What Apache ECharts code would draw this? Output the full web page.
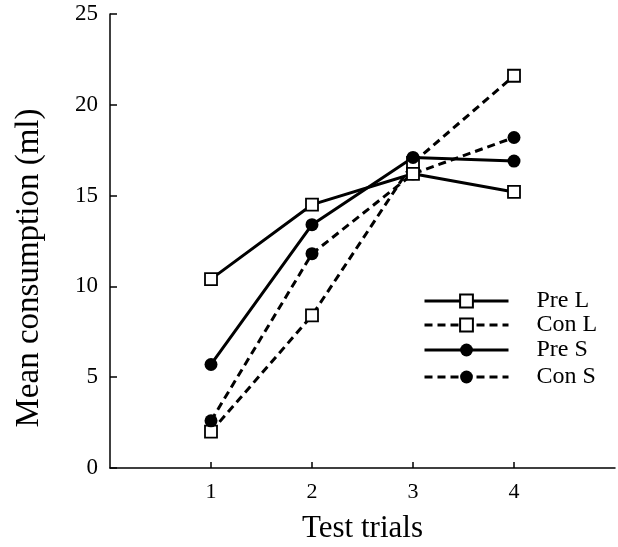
<!DOCTYPE html>
<html><head><meta charset="utf-8">
<script src="https://cdn.jsdelivr.net/npm/echarts@6/dist/echarts.min.js"></script>
<style>html,body{margin:0;padding:0;background:#fff}#c{width:618px;height:547px}</style>
</head><body><div id="c"></div>
<script>
const trials = [1, 2, 3, 4];
const preL = [10.4, 14.5, 16.2, 15.2];
const conL = [2.0, 8.4, 16.8, 21.6];
const preS = [5.7, 13.4, 17.1, 16.9];
const conS = [2.6, 11.8, 16.2, 18.2];
const yTicks = [0, 5, 10, 15, 20, 25];
const names = ['Pre L', 'Con L', 'Pre S', 'Con S'];

const font = 'Liberation Serif';
function pairs(v){ return trials.map((t,i)=>[t, v[i]]); }
function mk(name, data, dashed, filled){
  return {
    name, type:'line', data: pairs(data),
    symbol: filled ? 'circle' : 'rect',
    symbolSize: filled ? 13 : 12,
    showSymbol: true,
    lineStyle:{color:'#000', width:3, type: dashed ? [8,5] : 'solid'},
    itemStyle:{color: filled ? '#000' : '#fff', borderColor:'#000', borderWidth: filled ? 0 : 1.8},
    emphasis:{disabled:true}, animation:false
  };
}
const legendTops = [289, 313, 338, 365];
const chart = echarts.init(document.getElementById('c'));
chart.setOption({
  backgroundColor:'#fff',
  animation:false,
  grid:{left:110, top:14, right:3, bottom:79, containLabel:false, outerBoundsMode:'none'},
  legend: names.map((n,i)=>({
    data:[n], left:423, top:legendTops[i], orient:'vertical', padding:0,
    itemWidth:84, itemHeight:16, itemGap:0,
    lineStyle:{width:3},
    textStyle:{fontFamily:font, fontSize:24, lineHeight:24, color:'#000', padding:[0,0,0,23]},
    selectedMode:false
  })),
  xAxis:{
    type:'value', min:0, max:5, interval:1,
    name:'Test trials', nameLocation:'middle', nameGap:45,
    nameTextStyle:{fontFamily:font, fontSize:31, color:'#000'},
    axisLine:{onZero:false, lineStyle:{color:'#000', width:1.5}},
    axisTick:{inside:true, length:6, customValues:trials, lineStyle:{color:'#000', width:1.5}},
    axisLabel:{customValues:trials, fontFamily:font, fontSize:22, color:'#000', margin:13},
    splitLine:{show:false}
  },
  yAxis:{
    type:'value', min:0, max:25, interval:5,
    name:'Mean consumption (ml)', nameLocation:'middle', nameGap:64,
    nameTextStyle:{fontFamily:font, fontSize:33, color:'#000', padding:[0,54,0,0]},
    axisLine:{show:true, lineStyle:{color:'#000', width:1.5}},
    axisTick:{show:true, inside:true, length:7, customValues:yTicks, lineStyle:{color:'#000', width:1.5}},
    axisLabel:{customValues:yTicks, fontFamily:font, fontSize:23, color:'#000', margin:12},
    splitLine:{show:false}
  },
  series:[
    mk('Con L', conL, true, false),
    mk('Con S', conS, true, true),
    mk('Pre S', preS, false, true),
    mk('Pre L', preL, false, false)
  ]
});
</script></body></html>
